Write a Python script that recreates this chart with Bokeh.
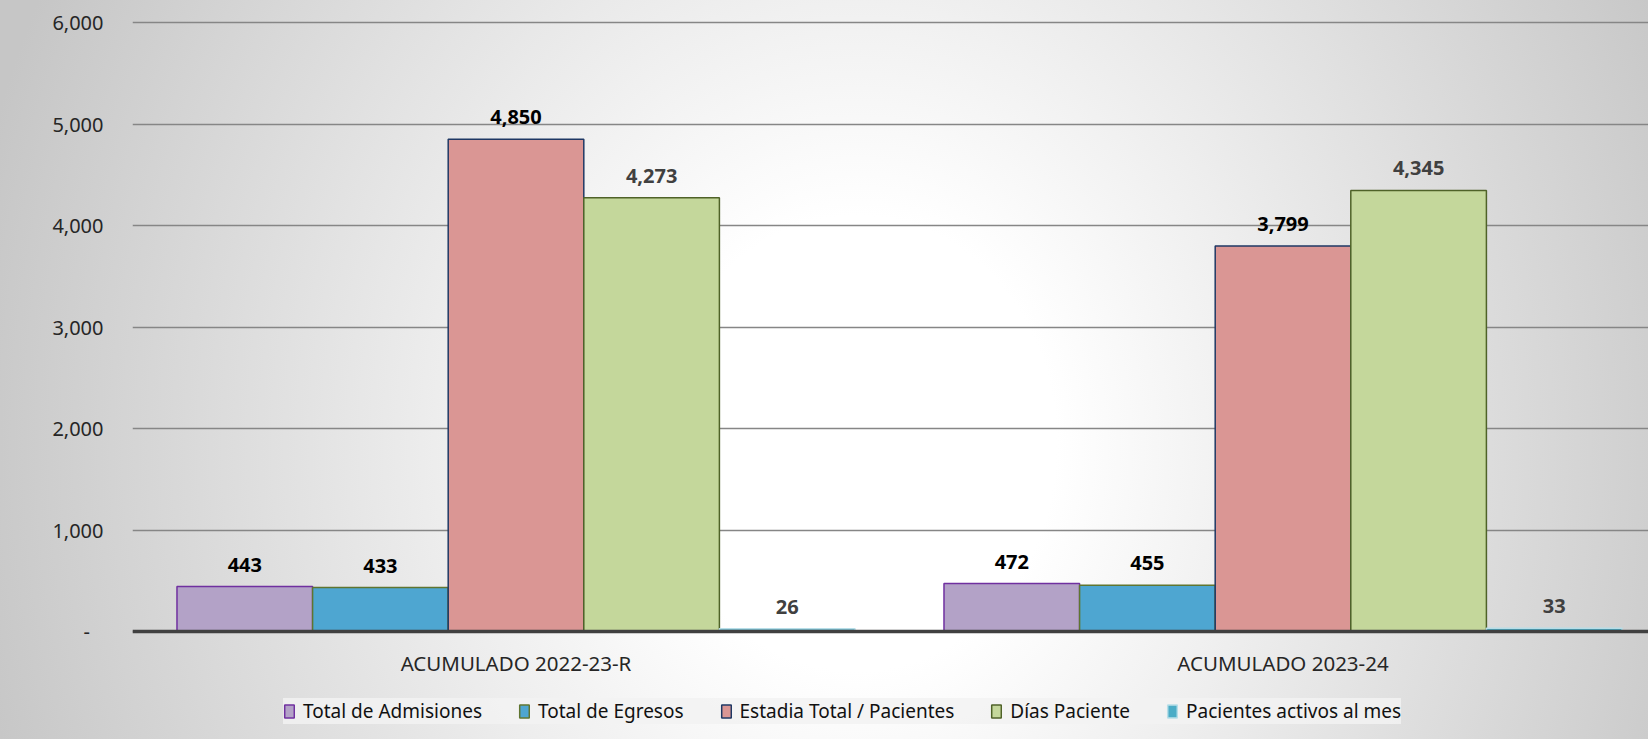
from bokeh.plotting import figure
from bokeh.models import (ColumnDataSource, Range1d, FixedTicker, NumeralTickFormatter,
                          LabelSet, Legend, LegendItem, Span)
from bokeh.core.properties import value
from bokeh.embed import file_html
from bokeh.resources import INLINE

# ---- data ----
categories = ["ACUMULADO 2022-23-R", "ACUMULADO 2023-24"]
series_names = ["Total de Admisiones", "Total de Egresos", "Estadia Total / Pacientes",
                "Días Paciente", "Pacientes activos al mes"]
admisiones = [443, 472]
egresos = [433, 455]
estadia = [4850, 3799]
dias = [4273, 4345]
pacientes = [26, 33]
y_ticks = [0, 1000, 2000, 3000, 4000, 5000, 6000]

series_values = [admisiones, egresos, estadia, dias, pacientes]
fills = ["#B3A2C7", "#4EA6D1", "#DA9694", "#C4D79B", "#4BACC6"]
lines = ["#7030A0", "#5F7530", "#1F3864", "#4F6228", "#B7DEE8"]
label_colors = ["#000000", "#000000", "#000000", "#404040", "#404040"]

FONT = "Noto Sans"
bar_w = 0.1768
cat_x = [i + 0.5 for i in range(len(categories))]

# frame: left at 132px, 6000 at 22px, 0 at 631px, extends to bottom of page
px_per_unit = (631 - 22) / 6000.0
y_end = 6000 + 2 / px_per_unit
y_start = -(739 - 631) / px_per_unit

p = figure(width=1648, height=739, output_backend="svg", toolbar_location=None,
           x_range=Range1d(0, (1648 - 132) / 767), y_range=Range1d(y_start, y_end),
           min_border_left=132, min_border_right=0, min_border_top=20, min_border_bottom=0)
p.border_fill_alpha = 0
p.background_fill_alpha = 0
p.outline_line_color = None
p.styles = {"background": "radial-gradient(ellipse 55% 140% at 52% 60%, #ffffff 0%, #ffffff 22%, #c6c6c6 100%)"}

items = []
for j, (name, vals) in enumerate(zip(series_names, series_values)):
    xs = [c + (j - 2) * bar_w for c in cat_x]
    src = ColumnDataSource(dict(x=xs, top=vals,
                                lab=[f"{v:,}" for v in vals]))
    r = p.vbar(x="x", top="top", bottom=0, width=bar_w, source=src,
               fill_color=fills[j], line_color=lines[j], line_width=1.5)
    items.append(LegendItem(label=name, renderers=[r]))
    p.add_layout(LabelSet(x="x", y="top", text="lab", source=src, text_align="center",
                          text_baseline="middle", y_offset=22, text_font=value(FONT),
                          text_font_size=value("20px"), text_font_style=value("bold"),
                          text_color=value(label_colors[j])))

# y axis
p.yaxis.ticker = FixedTicker(ticks=y_ticks)
p.yaxis.formatter = NumeralTickFormatter(format="0,0")
p.yaxis.major_label_overrides = {0: "-\u2007\u200a"}
p.yaxis.axis_line_color = None
p.yaxis.major_tick_line_color = None
p.yaxis.minor_tick_line_color = None
p.yaxis.major_label_standoff = 23
p.yaxis.major_label_text_font = FONT
p.yaxis.major_label_text_font_size = "20px"
p.yaxis.major_label_text_color = "#262626"

# category axis: baseline + category labels placed at the data baseline
p.xaxis.visible = False
p.add_layout(Span(location=0, dimension="width", line_color="#404040", line_width=3.5))
cat_src = ColumnDataSource(dict(x=cat_x, y=[0] * len(cat_x), name=categories))
p.add_layout(LabelSet(x="x", y="y", text="name", source=cat_src, text_align="center",
                      text_baseline="middle", y_offset=-31, text_font=value(FONT),
                      text_font_size=value("20.5px"), text_color=value("#262626")))

p.xgrid.grid_line_color = None
p.ygrid.grid_line_color = "#868686"
p.ygrid.grid_line_width = 1.3

legend = Legend(items=items, orientation="horizontal", location=(151, 15),
                background_fill_color="#F2F2F2", background_fill_alpha=0.85,
                border_line_color=None, label_text_font=FONT, label_text_font_size="19px",
                label_text_color="#111111", glyph_width=12, glyph_height=16,
                label_height=22, label_standoff=8, spacing=36, padding=10, margin=0)
p.add_layout(legend, "center")

open("out.html", "w").write(file_html(p, INLINE))
